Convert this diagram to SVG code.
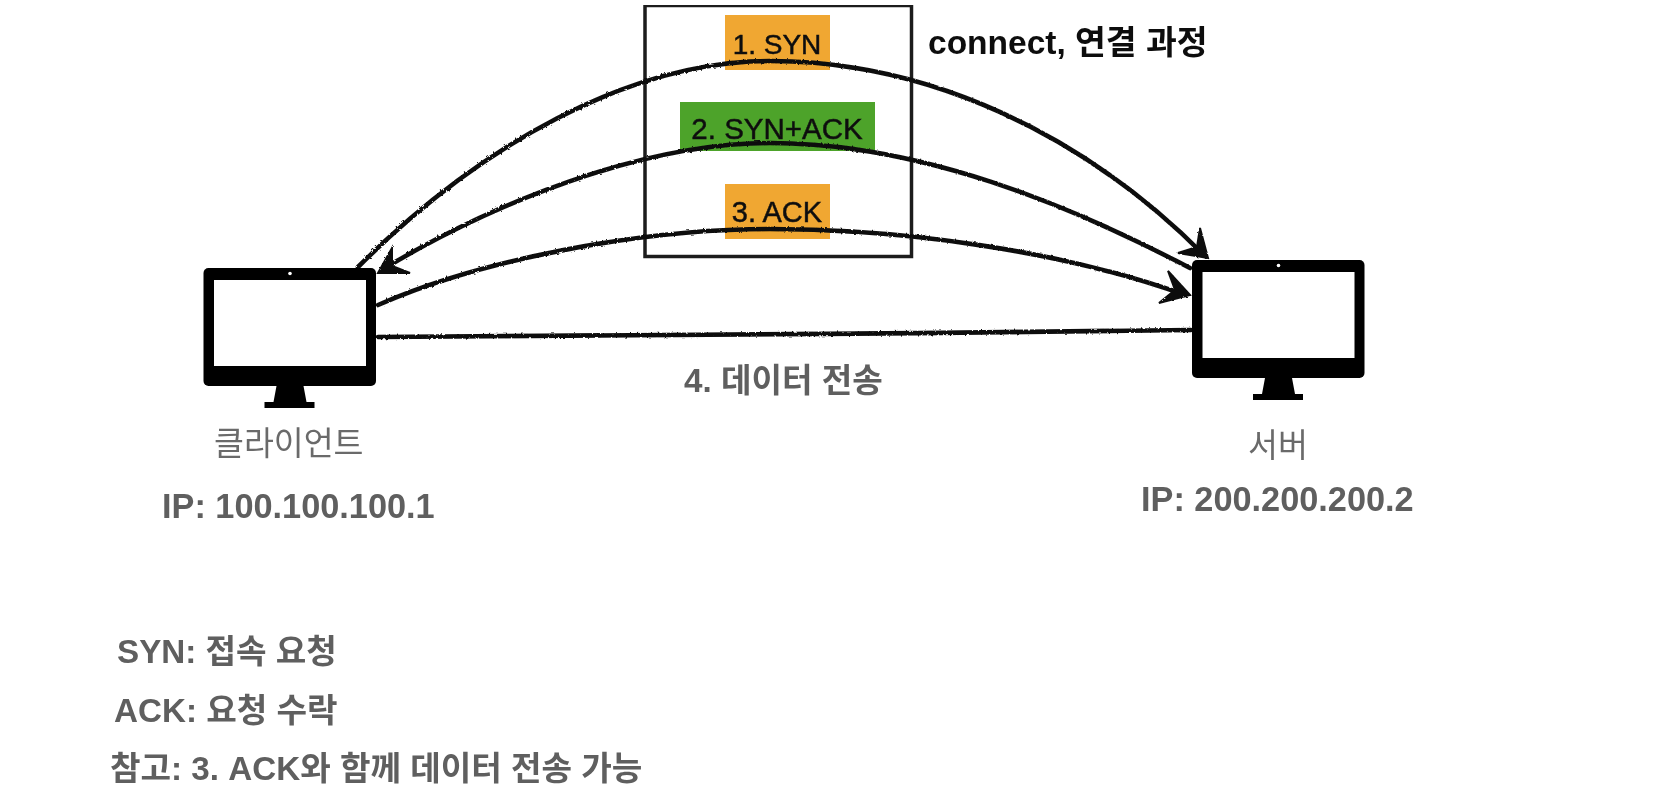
<svg xmlns="http://www.w3.org/2000/svg" width="1660" height="792" viewBox="0 0 1660 792">
<style>
text{font-family:"Liberation Sans","Noto Sans CJK KR",sans-serif;}
.g{fill:#5f5f5f;font-weight:bold;font-size:33.200px;}
.ip{fill:#5f5f5f;font-weight:bold;font-size:34.300px;}
.l{fill:#6a6a6a;font-size:32.500px;}
.k{fill:#111;text-anchor:middle;stroke:#111;stroke-width:.5;}
.c{fill:none;stroke:#111;stroke-width:4.600;stroke-linecap:round;}
.h{fill:#111;stroke:#111;stroke-width:2;}
.m{fill:#000;}
.s{fill:#fff;}
</style>
<defs>
<filter id="rough" x="-5%" y="-20%" width="110%" height="140%"><feTurbulence type="fractalNoise" baseFrequency="0.35" numOctaves="2" seed="3" result="n"/><feDisplacementMap in="SourceGraphic" in2="n" scale="2.6"/></filter>
<filter id="soft" x="0" y="0" width="100%" height="100%"><feGaussianBlur stdDeviation="0.5"/></filter>
<g id="mon">
<rect class="m" width="172.500" height="118" rx="5"/>
<rect class="s" x="10.500" y="12" width="152" height="86"/>
<circle class="s" cx="86.500" cy="5.500" r="1.800"/>
<path class="m" d="M73 118H100L103 134H111V140H61V134H70Z"/>
</g>
</defs>
<rect width="1660" height="792" fill="#fff"/>
<g id="diagram" filter="url(#soft)">
<g id="box-handshake"><rect x="645" y="5.500" width="266.500" height="251" fill="none" stroke="#1c1c1c" stroke-width="3.500"/></g>
<g id="syn"><rect x="725" y="15" width="105" height="55" fill="#f0a732"/><text class="k" x="777" y="54" font-size="28">1. SYN</text></g>
<g id="syn-ack"><rect x="680" y="102" width="195" height="49" fill="#4ea32b"/><text class="k" x="777" y="139" font-size="29.500">2. SYN+ACK</text></g>
<g id="ack"><rect x="725" y="184" width="105" height="55" fill="#f0a732"/><text class="k" x="777" y="222" font-size="29">3. ACK</text></g>
<g id="connectors" filter="url(#rough)">
<path class="c" d="M358 267C480 145 630 61 770 61C930 61 1085 135 1205 256"/>
<path class="h" d="M1200 228L1208 258L1178 253L1197 247Z"/>
<path class="c" d="M1190 268C1070 205 920 143 770 143C640 143 490 205 385 268"/>
<path class="h" d="M392 248L378 273L410 273L392 266Z"/>
<path class="c" d="M378 305C480 260 640 229 770 229C900 229 1060 250 1185 295"/>
<path class="h" d="M1168 271L1190 295L1159 303L1175 290Z"/>
<path class="c" d="M378 337C650 337 920 333 1191 330"/>
</g>
<g id="client"><use href="#mon" x="203.500" y="268"/>
<text class="l" x="214" y="455">클라이언트</text>
<text class="ip" x="162" y="518">IP: 100.100.100.1</text></g>
<g id="server"><use href="#mon" x="1192" y="260"/>
<text class="l" x="1248" y="457">서버</text>
<text class="ip" x="1141" y="511">IP: 200.200.200.2</text></g>
<text x="928" y="54" font-size="33.500" font-weight="bold" fill="#111">connect, 연결 과정</text>
<text class="g" x="684" y="392">4. 데이터 전송</text>
<text class="g" x="117" y="663">SYN: 접속 요청</text>
<text class="g" x="114" y="722">ACK: 요청 수락</text>
<text class="g" x="110" y="780">참고: 3. ACK와 함께 데이터 전송 가능</text>
</g>
</svg>
